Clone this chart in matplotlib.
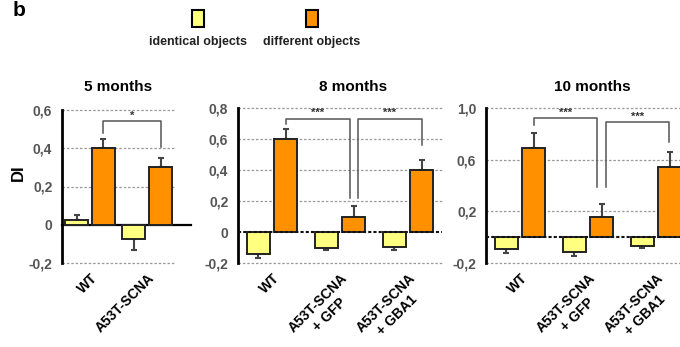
import matplotlib
matplotlib.use("Agg")
import matplotlib.pyplot as plt
from matplotlib.patches import Rectangle

plt.rcParams['font.family'] = ['Liberation Sans', 'DejaVu Sans']

W, H = 680, 347
YELLOW = '#FFFF80'
ORANGE = '#FF9100'
EDGE = '#222222'
ERRC = '#444444'
TICKC = '#555555'

# ---- data -------------------------------------------------------------
groups_5 = ['WT', 'A53T-SCNA']
ident_5 = [0.025, -0.075]
ident_err_5 = [0.025, 0.055]
diff_5 = [0.40, 0.30]
diff_err_5 = [0.05, 0.05]

groups_8 = ['WT', 'A53T-SCNA\n+ GFP', 'A53T-SCNA\n+ GBA1']
ident_8 = [-0.142, -0.103, -0.097]
ident_err_8 = [0.024, 0.016, 0.016]
diff_8 = [0.60, 0.097, 0.40]
diff_err_8 = [0.065, 0.073, 0.063]

groups_10 = ['WT', 'A53T-SCNA\n+ GFP', 'A53T-SCNA\n+ GBA1']
ident_10 = [-0.09, -0.115, -0.07]
ident_err_10 = [0.03, 0.03, 0.015]
diff_10 = [0.69, 0.155, 0.545]
diff_err_10 = [0.12, 0.105, 0.115]

yticks_5 = [-0.2, 0, 0.2, 0.4, 0.6]
ylabels_5 = ['-0,2', '0', '0,2', '0,4', '0,6']
yticks_8 = [-0.2, 0, 0.2, 0.4, 0.6, 0.8]
ylabels_8 = ['-0,2', '0', '0,2', '0,4', '0,6', '0,8']
yticks_10 = [-0.2, 0.2, 0.6, 1.0]
ylabels_10 = ['-0,2', '0,2', '0,6', '1,0']

# significance brackets: (x_left, y_left, x_right, y_right, y_top, label)
sig_5 = [(0.235, 0.48, 1.235, 0.405, 0.54, '*')]
sig_8 = [(0.2, 0.70, 1.14, 0.22, 0.73, '***'),
         (1.26, 0.22, 2.2, 0.56, 0.73, '***')]
sig_10 = [(0.2, 0.87, 1.13, 0.39, 0.92, '***'),
          (1.26, 0.39, 2.19, 0.74, 0.89, '***')]


def px_axes(fig, x0, x1, y_top, y_bot):
    return fig.add_axes([x0 / W, 1 - y_bot / H, (x1 - x0) / W, (y_bot - y_top) / H])


def draw_panel(ax, groups, ident, ident_err, diff, diff_err, offset, width,
               xlim, ylim, yticks, ylabels, grid_end, zero_solid, zero_end, sig):
    xs = list(range(len(groups)))
    ax.set_xlim(*xlim)
    ax.set_ylim(*ylim)

    for y in yticks:
        if y == 0:
            continue
        ax.axhline(y, 0, grid_end, color='#999999', lw=0.9, ls=(0, (2, 1.5)),
                   clip_on=False, zorder=0)
    if zero_solid:
        ax.axhline(0, 0, zero_end, color='black', lw=1.6, clip_on=False, zorder=1)
    else:
        ax.axhline(0, 0, zero_end, color='#111111', lw=1.5, ls=(0, (1.5, 1)),
                   clip_on=False, zorder=4)

    for vals, errs, color, sgn in ((ident, ident_err, YELLOW, -1), (diff, diff_err, ORANGE, 1)):
        pos = [x + sgn * offset for x in xs]
        ax.bar(pos, vals, width=width, color=color, edgecolor=EDGE, lw=1.4, zorder=2)
        lower = [e if v < 0 else 0 for v, e in zip(vals, errs)]
        upper = [e if v >= 0 else 0 for v, e in zip(vals, errs)]
        ax.errorbar(pos, vals, yerr=[lower, upper], fmt='none', ecolor=ERRC,
                    elinewidth=1.5, capsize=2.5, capthick=1.5, zorder=1)

    for xl, yl, xr, yr, yt, lab in sig:
        ax.plot([xl, xl, xr, xr], [yl, yt, yt, yr], color='#555555', lw=1.1,
                clip_on=False, zorder=3)
        ax.text((xl + xr) / 2, yt + 0.004 * (ylim[1] - ylim[0]), lab, ha='center',
                va='bottom', fontsize=8, fontweight='bold', color='#333333')

    for s in ('top', 'right', 'bottom'):
        ax.spines[s].set_visible(False)
    ax.spines['left'].set_linewidth(2)
    ax.spines['left'].set_color('black')

    ax.set_yticks(yticks)
    ax.set_yticklabels(ylabels, fontsize=10, fontweight='bold', color=TICKC)
    ax.tick_params(axis='y', length=0, pad=7)
    ax.set_xticks(xs)
    ax.set_xticklabels(groups, rotation=45, ha='right', va='top', rotation_mode='anchor',
                       fontsize=10, fontweight='bold', multialignment='center')
    ax.tick_params(axis='x', length=0, pad=6)
    ax.patch.set_alpha(0)


fig = plt.figure(figsize=(W / 100, H / 100), dpi=100)

ax1 = px_axes(fig, 62, 178, 110, 263)
draw_panel(ax1, groups_5, ident_5, ident_err_5, diff_5, diff_err_5, 0.235, 0.4,
           (-0.49, 1.54), (-0.2, 0.6), yticks_5, ylabels_5,
           grid_end=0.975, zero_solid=True, zero_end=1.11, sig=sig_5)

ax2 = px_axes(fig, 238, 442, 108, 263)
draw_panel(ax2, groups_8, ident_8, ident_err_8, diff_8, diff_err_8, 0.2, 0.34,
           (-0.5, 2.5), (-0.2, 0.8), yticks_8, ylabels_8,
           grid_end=1.0, zero_solid=False, zero_end=1.0, sig=sig_8)

ax3 = px_axes(fig, 486, 690, 108, 263)
draw_panel(ax3, groups_10, ident_10, ident_err_10, diff_10, diff_err_10, 0.2, 0.34,
           (-0.5, 2.5), (-0.2, 1.0), yticks_10, ylabels_10,
           grid_end=1.0, zero_solid=False, zero_end=1.0, sig=sig_10)

# titles
fig.text(118 / W, 1 - 87 / H, '5 months', ha='center', va='center', fontsize=11, fontweight='bold')
fig.text(353 / W, 1 - 87 / H, '8 months', ha='center', va='center', fontsize=11, fontweight='bold')
fig.text(592 / W, 1 - 87 / H, '10 months', ha='center', va='center', fontsize=11, fontweight='bold')

fig.text(18 / W, 1 - 173 / H, 'DI', ha='center', va='center', rotation=90,
         fontsize=12, fontweight='bold')
fig.text(13 / W, 1 - 1 / H, 'b', ha='left', va='top', fontsize=15, fontweight='bold')

# legend
for cx, color, label in ((198, YELLOW, 'identical objects'), (312, ORANGE, 'different objects')):
    fig.patches.append(Rectangle(((cx - 6) / W, 1 - 27 / H), 12 / W, 17 / H,
                                 transform=fig.transFigure, facecolor=color,
                                 edgecolor='black', lw=1.5))
    fig.text(cx / W, 1 - 42 / H, label, ha='center', va='center', fontsize=9,
             fontweight='bold', color='#222222')

fig.savefig('out.png', dpi=100)
